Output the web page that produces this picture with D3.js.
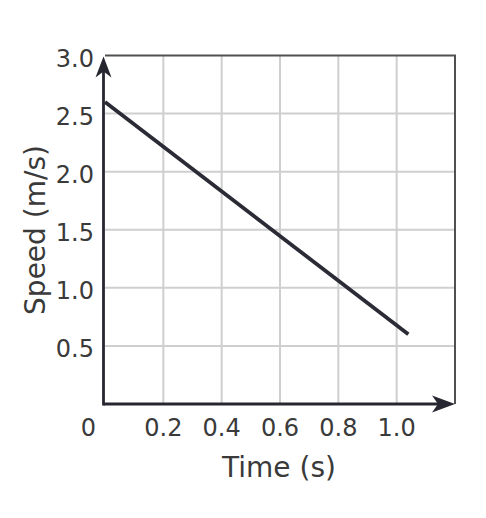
<!DOCTYPE html>
<html><head><meta charset="utf-8">
<script src="https://cdn.jsdelivr.net/npm/d3@7"></script>
<style>body{margin:0;background:#fff}</style>
</head><body>
<script>
const xTicks = [0.2, 0.4, 0.6, 0.8, 1.0];
const yTicks = [0.5, 1.0, 1.5, 2.0, 2.5, 3.0];
const xGrid = [0.2, 0.4, 0.6, 0.8, 1.0];
const yGrid = [0.5, 1.0, 1.5, 2.0, 2.5];
const lineTime = [0, 1.04];
const lineSpeed = [2.6, 0.6];

const W = 486, H = 518;
const svg = d3.select("body").append("svg").attr("width", W).attr("height", H);
const x = d3.scaleLinear().domain([0, 1.2]).range([105, 455]);
const y = d3.scaleLinear().domain([0, 3]).range([404, 55.5]);
const font = "'DejaVu Sans', Verdana, sans-serif";
const txt = "#3a3a3a";

// grid
svg.append("g").selectAll("line").data(xGrid).join("line")
  .attr("x1", d => x(d)).attr("x2", d => x(d)).attr("y1", y(0)).attr("y2", y(3))
  .attr("stroke", "#cfcfcf").attr("stroke-width", 2);
svg.append("g").selectAll("line").data(yGrid).join("line")
  .attr("x1", x(0)).attr("x2", x(1.2)).attr("y1", d => y(d)).attr("y2", d => y(d))
  .attr("stroke", "#cfcfcf").attr("stroke-width", 2);

// box top & right
svg.append("path")
  .attr("d", `M${x(0)},${y(3)}H${x(1.2)}V${y(0)}`)
  .attr("fill", "none").attr("stroke", "#505050").attr("stroke-width", 2);

// axes
const ax = "#262630";
svg.append("line").attr("x1", x(0)-1.5).attr("x2", x(1.2)-6).attr("y1", y(0)).attr("y2", y(0))
  .attr("stroke", ax).attr("stroke-width", 2.8);
svg.append("line").attr("x1", x(0)-1.5).attr("x2", x(0)-1.5).attr("y1", y(0)+1.4).attr("y2", y(3)+10)
  .attr("stroke", ax).attr("stroke-width", 2.8);
// arrowheads
const tipX = x(1.2), ty = y(0);
svg.append("path").attr("d", `M${tipX},${ty} L${tipX-23},${ty-8.5} L${tipX-17},${ty} L${tipX-23},${ty+8.5} Z`).attr("fill", ax);
const tx = x(0)-1.5, tipY = y(3)+1;
svg.append("path").attr("d", `M${tx},${tipY} L${tx-8},${tipY+21} L${tx},${tipY+15} L${tx+8},${tipY+21} Z`).attr("fill", ax);

// data line
const pts = lineTime.map((t, i) => [t, lineSpeed[i]]);
svg.append("path").datum(pts)
  .attr("d", d3.line().x(d => x(d[0])).y(d => y(d[1])))
  .attr("fill", "none").attr("stroke", "#2b2b36").attr("stroke-width", 3.8);

// tick labels
svg.append("g").selectAll("text").data(yTicks).join("text")
  .attr("x", 94).attr("y", d => y(d)).attr("dy", "0.47em")
  .attr("text-anchor", "end").attr("font-family", font).attr("font-size", 24).attr("fill", txt)
  .text(d => d.toFixed(1));
svg.append("g").selectAll("text").data(xTicks).join("text")
  .attr("x", d => x(d)).attr("y", 436)
  .attr("text-anchor", "middle").attr("font-family", font).attr("font-size", 24).attr("fill", txt)
  .text(d => d.toFixed(1));
svg.append("text").attr("x", 88.3).attr("y", 436).attr("text-anchor", "middle")
  .attr("font-family", font).attr("font-size", 24).attr("fill", txt).text("0");

// axis titles
svg.append("text").attr("x", 279).attr("y", 476.5).attr("text-anchor", "middle")
  .attr("font-family", font).attr("font-size", 28).attr("fill", txt).text("Time (s)");
svg.append("text").attr("transform", `translate(45,230) rotate(-90)`).attr("text-anchor", "middle")
  .attr("font-family", font).attr("font-size", 28).attr("fill", txt).text("Speed (m/s)");
</script>
</body></html>
